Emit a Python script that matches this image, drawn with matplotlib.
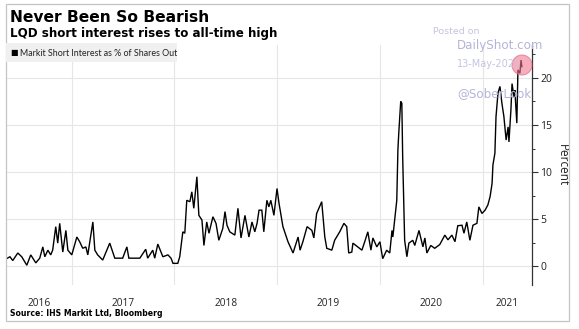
import matplotlib
matplotlib.use("Agg")
import matplotlib.pyplot as plt
from matplotlib.patches import Circle, Rectangle
from matplotlib.transforms import IdentityTransform
import pandas as pd

# Markit short interest in LQD, % of shares outstanding
dates = [
    "2016-05-14", "2016-05-26", "2016-06-05", "2016-06-23", "2016-07-07", "2016-07-25",
    "2016-08-08", "2016-08-26", "2016-09-09", "2016-09-20", "2016-09-27", "2016-10-08",
    "2016-10-18", "2016-10-25", "2016-11-05", "2016-11-12", "2016-11-19", "2016-11-30",
    "2016-12-11", "2016-12-18", "2017-01-01", "2017-01-19", "2017-01-29", "2017-02-09",
    "2017-02-20", "2017-02-27", "2017-03-17", "2017-03-24", "2017-04-03", "2017-04-21",
    "2017-05-16", "2017-06-03", "2017-07-01", "2017-07-16", "2017-07-23", "2017-08-31",
    "2017-09-21", "2017-09-28", "2017-10-16", "2017-10-23", "2017-11-03", "2017-11-21",
    "2017-12-09", "2017-12-20", "2017-12-27", "2018-01-13", "2018-01-20", "2018-01-31",
    "2018-02-07", "2018-02-14", "2018-02-25", "2018-03-04", "2018-03-11", "2018-03-22",
    "2018-03-29", "2018-04-09", "2018-04-16", "2018-04-26", "2018-05-04", "2018-05-18",
    "2018-05-29", "2018-06-08", "2018-06-22", "2018-06-30", "2018-07-07", "2018-07-17",
    "2018-08-04", "2018-08-15", "2018-08-26", "2018-09-09", "2018-09-23", "2018-10-04",
    "2018-10-14", "2018-10-22", "2018-10-29", "2018-11-08", "2018-11-15", "2018-11-26",
    "2018-12-03", "2018-12-10", "2018-12-21", "2019-01-01", "2019-01-08", "2019-01-22",
    "2019-02-09", "2019-02-27", "2019-03-17", "2019-03-24", "2019-04-03", "2019-04-18",
    "2019-05-05", "2019-05-12", "2019-05-22", "2019-06-09", "2019-06-20", "2019-06-27",
    "2019-07-15", "2019-07-25", "2019-08-12", "2019-08-27", "2019-09-06", "2019-09-13",
    "2019-09-24", "2019-09-28", "2019-10-15", "2019-10-30", "2019-11-09", "2019-11-20",
    "2019-12-01", "2019-12-08", "2019-12-22", "2020-01-02", "2020-01-12", "2020-01-26",
    "2020-02-06", "2020-02-14", "2020-02-17", "2020-02-24", "2020-03-02", "2020-03-06",
    "2020-03-09", "2020-03-16", "2020-03-20", "2020-03-23", "2020-03-30", "2020-04-07",
    "2020-04-14", "2020-04-28", "2020-05-05", "2020-05-20", "2020-06-03", "2020-06-10",
    "2020-06-17", "2020-07-01", "2020-07-15", "2020-08-02", "2020-08-20", "2020-08-31",
    "2020-09-14", "2020-09-25", "2020-10-05", "2020-10-20", "2020-10-27", "2020-11-06",
    "2020-11-17", "2020-11-28", "2020-12-12", "2020-12-19", "2020-12-30", "2021-01-10",
    "2021-01-20", "2021-01-28", "2021-02-04", "2021-02-07", "2021-02-14", "2021-02-18",
    "2021-02-25", "2021-03-04", "2021-03-11", "2021-03-18", "2021-03-26", "2021-04-02",
    "2021-04-05", "2021-04-12", "2021-04-16", "2021-04-23", "2021-04-26", "2021-05-03",
    "2021-05-07", "2021-05-14", "2021-05-18", "2021-05-21",
]
short_interest = [
    0.8, 1.0, 0.6, 1.4, 1.0, 0.1,
    1.2, 0.35, 0.85, 2.05, 1.0, 1.7,
    1.2, 1.7, 4.2, 2.45, 4.55, 1.5,
    3.8, 1.7, 1.2, 3.1, 2.6, 1.9,
    2.05, 1.2, 4.7, 1.7, 1.2, 0.65,
    2.45, 0.85, 0.85, 2.05, 0.85, 0.85,
    1.8, 0.85, 1.7, 0.85, 2.35, 1.0,
    1.2, 0.85, 0.3, 0.3, 1.0, 3.65,
    3.5, 7.0, 6.85, 7.9, 6.15, 9.5,
    5.4, 4.9, 2.2, 4.7, 3.5, 5.25,
    4.55, 2.75, 4.0, 5.8, 4.35, 3.65,
    3.3, 6.15, 3.0, 5.4, 3.1, 4.7,
    3.65, 4.55, 5.95, 5.95, 3.65, 7.0,
    6.3, 7.0, 5.4, 8.25, 6.7, 4.2,
    2.6, 1.4, 3.1, 1.7, 2.6, 4.2,
    3.8, 3.0, 5.6, 6.85, 3.1, 1.9,
    1.7, 2.75, 3.65, 4.55, 4.2, 1.4,
    1.5, 2.45, 2.05, 1.7, 2.6, 3.65,
    1.7, 3.0, 2.05, 2.6, 0.8, 1.7,
    1.4, 3.8, 3.1, 5.05, 7.0, 12.35,
    14.1, 17.5, 17.3, 11.6, 2.75, 1.0,
    2.45, 2.75, 2.2, 3.8, 2.05, 3.0,
    1.4, 2.2, 1.9, 2.3, 3.3, 2.8,
    3.3, 2.6, 4.3, 4.35, 3.5, 4.7,
    2.75, 4.35, 4.55, 6.3, 5.6, 5.95,
    6.5, 7.4, 8.8, 10.75, 12.0, 15.9,
    18.4, 19.1, 17.3, 15.9, 13.4, 14.8,
    13.2, 16.6, 19.4, 18.0, 18.7, 15.2,
    20.85, 20.5, 21.9, 21.2,
]
year_labels = ["2016", "2017", "2018", "2019", "2020", "2021"]
y_ticks = [0, 5, 10, 15, 20]

W, H = 579, 329
fig = plt.figure(figsize=(W / 100, H / 100), dpi=100)
fig.patch.set_facecolor("white")

# outer frame
fig.add_artist(Rectangle((6 / W, 8 / H), 563 / W, 317 / H, transform=fig.transFigure,
                         fill=False, edgecolor="#c4c4c4", linewidth=0.9))

ax = fig.add_axes([6 / W, (H - 285) / H, 526 / W, 240 / H])
x = pd.to_datetime(dates)
ax.plot(x, short_interest, color="black", linewidth=1.0, solid_joinstyle="miter")

x0, x1 = pd.Timestamp("2016-05-12"), pd.Timestamp("2021-06-26")
ax.set_xlim(x0, x1)
ax.set_ylim(-2.0, 23.5)

# year boundaries carry the gridlines, labels sit in the middle of each visible year
starts = [pd.Timestamp(f"{y}-01-01") for y in range(2017, 2022)]
ax.set_xticks(starts)
ax.set_xticklabels([])
edges = [x0] + starts + [x1]
mids = [edges[i] + (edges[i + 1] - edges[i]) / 2 for i in range(len(edges) - 1)]
ax.set_xticks(mids, minor=True)
ax.set_xticklabels(year_labels, minor=True)
ax.tick_params(axis="x", which="both", length=0, pad=9.5, labelsize=7.3, labelcolor="#222222")
for lab in ax.get_xticklabels(minor=True):
    lab.set_family("Open Sans")

ax.yaxis.tick_right()
ax.yaxis.set_label_position("right")
ax.set_yticks(y_ticks)
ax.set_yticks([-2.5 + 5 * k for k in range(6) if -2 <= -2.5 + 5 * k <= 23.5], minor=True)
ax.tick_params(axis="y", which="major", length=4, width=0.8, pad=2, labelsize=7.5,
               labelcolor="#222222", color="#333333")
ax.tick_params(axis="y", which="minor", length=2, width=0.7, color="#333333")
for lab in ax.get_yticklabels():
    lab.set_family("Open Sans")
ax.set_ylabel("Percent", rotation=270, labelpad=12, fontsize=8.5, family="Open Sans",
              color="#222222")

ax.grid(True, which="major", color="#e6e6e6", linewidth=0.8)
ax.set_axisbelow(True)
for side in ("left", "top", "bottom"):
    ax.spines[side].set_visible(False)
ax.spines["right"].set_color("#333333")
ax.spines["right"].set_linewidth(0.9)

# titles
fig.text(9.5 / W, 1 - 17 / H, "Never Been So Bearish", fontsize=11.2, fontweight="bold",
         family="DejaVu Sans", va="center", ha="left")
fig.text(9.5 / W, 1 - 33.5 / H, "LQD short interest rises to all-time high", fontsize=8.6,
         fontweight="bold", family="DejaVu Sans", va="center", ha="left")

# legend box
fig.add_artist(Rectangle((6 / W, 1 - 62 / H), 171 / W, 19 / H, transform=fig.transFigure,
                         facecolor="#f0f0f0", edgecolor="none"))
fig.text(10.5 / W, 1 - 53 / H, "\u25A0", fontsize=5.8, family="DejaVu Sans", va="center", ha="left")
fig.text(20.5 / W, 1 - 53 / H, "Markit Short Interest as % of Shares Out", fontsize=6.4,
         family="Lato", va="center", ha="left", color="#222222")

# source line
fig.text(9.5 / W, 1 - 313 / H, "Source: IHS Markit Ltd, Bloomberg", fontsize=5.6,
         fontweight="bold", family="DejaVu Sans", va="center", ha="left")

# watermark
wm = "#b4b4d8"
fig.text(433 / W, 1 - 31 / H, "Posted on", fontsize=6.8, color="#c4c4e0", va="center", ha="left")
fig.text(457 / W, 1 - 46 / H, "DailyShot.com", fontsize=8.6, color=wm, va="center", ha="left")
fig.text(457 / W, 1 - 64 / H, "13-May-2021", fontsize=7.0, color="#c4c4e0", va="center", ha="left")
fig.text(457 / W, 1 - 94 / H, "@SoberLook", fontsize=8.6, color=wm, va="center", ha="left")
fig.add_artist(Circle((522, H - 65), 10, transform=IdentityTransform(),
                      facecolor="#f07890", edgecolor="#e06080", alpha=0.6, linewidth=0.8))

fig.savefig("out.png", dpi=100)
